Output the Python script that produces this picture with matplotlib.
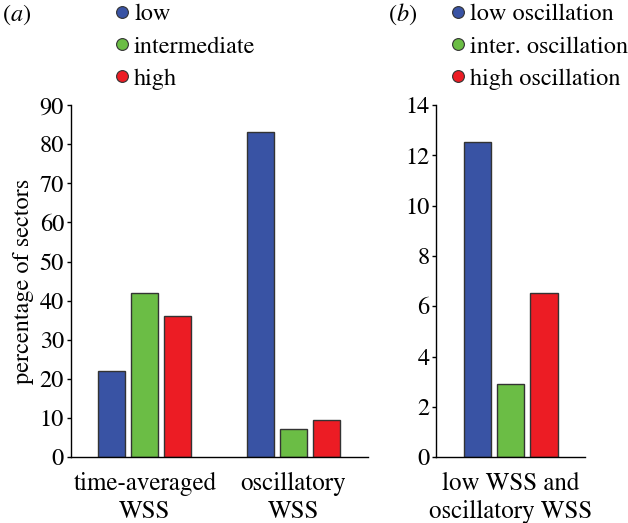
import matplotlib
matplotlib.use("Agg")
import matplotlib.pyplot as plt
from matplotlib.lines import Line2D

plt.rcParams['font.family'] = ['STIXGeneral', 'Liberation Serif', 'DejaVu Serif']
plt.rcParams['mathtext.fontset'] = 'stix'

# data
groups_a = ["time-averaged\nWSS", "oscillatory\nWSS"]
low_a = [22.0, 83.1]
inter_a = [42.0, 7.2]
high_a = [36.1, 9.6]
labels_a = ["low", "intermediate", "high"]

group_b = ["low WSS and\noscillatory WSS"]
vals_b = [12.54, 2.89, 6.53]
labels_b = ["low oscillation", "inter. oscillation", "high oscillation"]

colors = ["#3953a4", "#6bbd45", "#ec1c24"]
edge = "#333333"
fs = 17.5
fs_x = 18

fig = plt.figure(figsize=(6.28, 5.23), dpi=100)
ax1 = fig.add_axes([0.113, 0.126, 0.473, 0.673])
ax2 = fig.add_axes([0.695, 0.126, 0.237, 0.673])

# panel (a)
gap = 4.5
for i, series in enumerate([low_a, inter_a, high_a]):
    xs = [g * gap + i for g in range(len(groups_a))]
    ax1.bar(xs, series, width=0.82, color=colors[i], edgecolor=edge, linewidth=1)
ax1.set_xlim(-1.24, 7.76)
ax1.set_ylim(0, 90)
ax1.set_yticks(range(0, 91, 10))
ax1.set_xticks([g * gap + 1 for g in range(len(groups_a))])
ax1.set_xticklabels(groups_a, fontsize=fs_x, linespacing=1.23)
ax1.set_ylabel("percentage of sectors", fontsize=fs, labelpad=4)

# panel (b)
ax2.bar(range(3), vals_b, width=0.82, color=colors, edgecolor=edge, linewidth=1)
ax2.set_xlim(-1.25, 3.25)
ax2.set_ylim(0, 14)
ax2.set_yticks(range(0, 15, 2))
ax2.set_xticks([1])
ax2.set_xticklabels(group_b, fontsize=fs_x, linespacing=1.23)

for ax in (ax1, ax2):
    for s in ("top", "right"):
        ax.spines[s].set_visible(False)
    ax.spines["left"].set_linewidth(1)
    ax.spines["bottom"].set_linewidth(1)
    ax.tick_params(axis="y", labelsize=fs, direction="out", length=3, width=1, pad=2)
    ax.tick_params(axis="x", length=0, pad=10.5)

def dot_handles(labels):
    return [Line2D([], [], marker="o", linestyle="none", markersize=8.5,
                   markerfacecolor=c, markeredgecolor=edge, markeredgewidth=0.8,
                   label=l) for c, l in zip(colors, labels)]

fig.legend(handles=dot_handles(labels_a), loc="upper left",
           bbox_to_anchor=(0.169, 1.012), frameon=False, fontsize=fs,
           handlelength=0.5, handletextpad=0.25, labelspacing=0.42, borderaxespad=0)
fig.legend(handles=dot_handles(labels_b), loc="upper left",
           bbox_to_anchor=(0.704, 1.012), frameon=False, fontsize=fs,
           handlelength=0.5, handletextpad=0.25, labelspacing=0.42, borderaxespad=0)

fig.text(0.003, 0.972, r"($\mathit{a}$)", fontsize=fs, va="center", ha="left")
fig.text(0.618, 0.972, r"($\mathit{b}$)", fontsize=fs, va="center", ha="left")

fig.savefig("out.png", dpi=100)
